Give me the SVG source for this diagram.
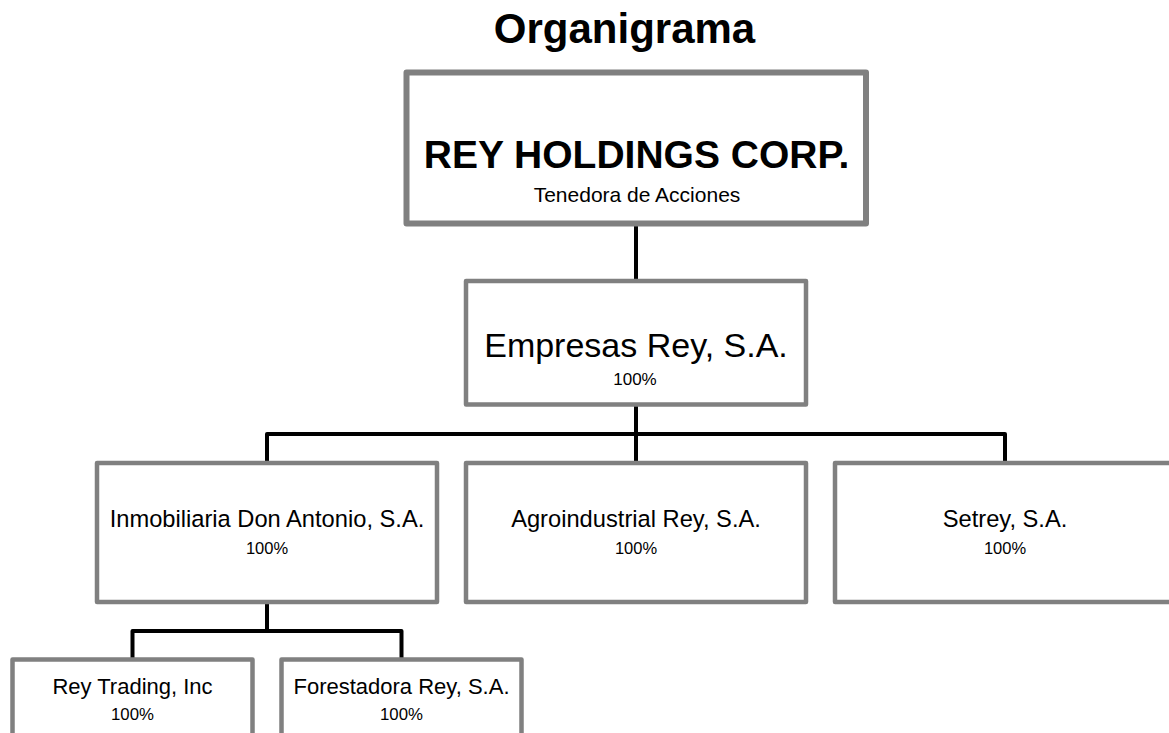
<svg xmlns="http://www.w3.org/2000/svg" width="1169" height="733" viewBox="0 0 1169 733">
<style>
.box{fill:#ffffff;stroke:#808080;stroke-linejoin:round}
.b4{stroke-width:4.5}
.b6{stroke-width:6}
.t{font-family:"Liberation Sans",Arial,sans-serif;fill:#000;text-anchor:middle}
.conn{fill:none;stroke:#000;stroke-width:4;stroke-linejoin:round}
</style>
<rect width="1169" height="733" fill="#ffffff"/>
<text class="t" x="624.5" y="43" font-size="42" font-weight="bold">Organigrama</text>
<g id="connectors">
<path class="conn" d="M636,224 V281"/>
<path class="conn" d="M636,404 V463"/>
<path class="conn" d="M267,463 V434 H1005 V463"/>
<path class="conn" d="M267,602 V631"/>
<path class="conn" d="M132.5,659.5 V631 H401.5 V659.5"/>
</g>
<g id="rey-holdings">
<rect class="box b6" x="406.5" y="72.5" width="459.5" height="151"/>
<text class="t" x="636.5" y="167.5" font-size="39" font-weight="bold">REY HOLDINGS CORP.</text>
<text class="t" x="637" y="202" font-size="21">Tenedora de Acciones</text>
</g>
<g id="empresas-rey">
<rect class="box b4" x="466" y="281" width="340" height="123.5"/>
<text class="t" x="636" y="357" font-size="34">Empresas Rey, S.A.</text>
<text class="t" x="635" y="385" font-size="17">100%</text>
</g>
<g id="inmobiliaria">
<rect class="box b4" x="97" y="463" width="340" height="139"/>
<text class="t" x="267" y="527" font-size="23.7">Inmobiliaria Don Antonio, S.A.</text>
<text class="t" x="267" y="554" font-size="16.5">100%</text>
</g>
<g id="agroindustrial">
<rect class="box b4" x="466" y="463" width="340" height="139"/>
<text class="t" x="636" y="527" font-size="23.7">Agroindustrial Rey, S.A.</text>
<text class="t" x="636" y="554" font-size="16.5">100%</text>
</g>
<g id="setrey">
<rect class="box b4" x="835" y="463" width="340" height="139"/>
<text class="t" x="1005" y="527" font-size="23.7">Setrey, S.A.</text>
<text class="t" x="1005" y="554" font-size="16.5">100%</text>
</g>
<g id="rey-trading">
<rect class="box b4" x="12.5" y="659.5" width="240" height="100"/>
<text class="t" x="132.5" y="694" font-size="22">Rey Trading, Inc</text>
<text class="t" x="132.5" y="720" font-size="16.8">100%</text>
</g>
<g id="forestadora">
<rect class="box b4" x="281.5" y="659.5" width="240" height="100"/>
<text class="t" x="401.5" y="694" font-size="22">Forestadora Rey, S.A.</text>
<text class="t" x="401.5" y="720" font-size="16.8">100%</text>
</g>
</svg>
